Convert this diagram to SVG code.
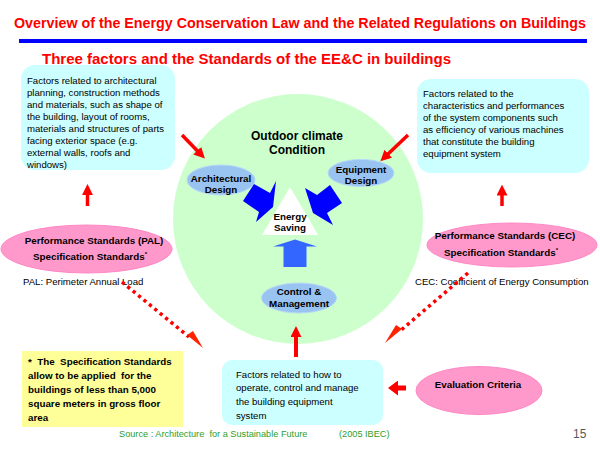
<svg xmlns="http://www.w3.org/2000/svg" width="600" height="450" viewBox="0 0 600 450">
<defs>
<style>
text{font-family:"Liberation Sans",Arial,sans-serif;fill:#000}
.title{font-size:15.5px;font-weight:bold;fill:#ff0000}
.sub{font-size:14px;font-weight:bold;fill:#ff0000}
.body{font-size:9.6px}
.b{font-size:9.8px;font-weight:bold}
.bc{font-size:9.8px;font-weight:bold;text-anchor:middle}
.big{font-size:12px;font-weight:bold;text-anchor:middle}
.cyan{fill:#ccffff}
.pink{fill:#ff99cc;stroke:#ff88c4;stroke-width:1}
.blueell{fill:#99c3f0;stroke:#b8d8f8;stroke-width:1}
.red{stroke:#ff0000;stroke-width:3.5;fill:none}
.dots{stroke:#ff0000;stroke-width:3.5;stroke-dasharray:3.3 3.7;fill:none}
.src{font-size:9.2px;fill:#2e9e2e}
</style>
<marker id="rh" markerUnits="userSpaceOnUse" markerWidth="11" markerHeight="11" viewBox="0 0 10 10" refX="1" refY="5" orient="auto">
<path d="M0,0 L10,5 L0,10 z" fill="#ff0000"/>
</marker>
<marker id="rhL" markerUnits="userSpaceOnUse" markerWidth="10" markerHeight="15" viewBox="0 0 10 15" refX="1" refY="7.5" orient="auto">
<path d="M0,0 L10,7.5 L0,15 z" fill="#ff0000"/>
</marker>
</defs>

<rect width="600" height="450" fill="#ffffff"/>

<g id="header">
<text class="title" transform="translate(14,28) scale(0.8,1)" x="0" y="0" textLength="715" lengthAdjust="spacingAndGlyphs">Overview of the Energy Conservation Law and the Related Regulations on Buildings</text>
<rect x="19" y="39" width="568" height="4" fill="#0000ff"/>
<text class="sub" x="42" y="64" textLength="409" lengthAdjust="spacingAndGlyphs">Three factors and the Standards of the EE&amp;C in buildings</text>
</g>

<g id="outdoor-circle">
<circle cx="298" cy="219" r="125" fill="#ccffcc"/>
<text class="big" x="297" y="140">Outdoor climate</text>
<text class="big" x="297" y="154">Condition</text>
</g>

<g id="arch-box">
<rect class="cyan" x="21" y="65" width="154" height="105" rx="14"/>
<text class="body" x="27" y="84">Factors related to architectural</text>
<text class="body" x="27" y="96">planning, construction methods</text>
<text class="body" x="27" y="108">and materials, such as shape of</text>
<text class="body" x="27" y="120">the building, layout of rooms,</text>
<text class="body" x="27" y="132">materials and structures of parts</text>
<text class="body" x="27" y="144">facing exterior space (e.g.</text>
<text class="body" x="27" y="156">external walls, roofs and</text>
<text class="body" x="27" y="168">windows)</text>
</g>

<g id="equip-box">
<rect class="cyan" x="417" y="79" width="172" height="94" rx="14"/>
<text class="body" x="423" y="97">Factors related to the</text>
<text class="body" x="423" y="109">characteristics and performances</text>
<text class="body" x="423" y="121">of the system components such</text>
<text class="body" x="423" y="133">as efficiency of various machines</text>
<text class="body" x="423" y="145">that constitute the building</text>
<text class="body" x="423" y="157">equipment system</text>
</g>

<g id="arch-design">
<ellipse class="blueell" cx="221" cy="180" rx="34" ry="15"/>
<text class="bc" x="221" y="181.5">Architectural</text>
<text class="bc" x="221" y="193">Design</text>
</g>

<g id="equip-design">
<ellipse class="blueell" cx="361" cy="173" rx="33" ry="13.5"/>
<text class="bc" x="361" y="172.5">Equipment</text>
<text class="bc" x="361" y="184">Design</text>
</g>

<g id="energy-saving">
<polygon points="262,235 318,235 290,187" fill="#ffffff"/>
<text class="bc" x="290" y="219.5">Energy</text>
<text class="bc" x="290" y="231">Saving</text>
</g>

<g id="control">
<ellipse class="blueell" cx="299" cy="298" rx="37.5" ry="15"/>
<text class="bc" x="299" y="295">Control &amp;</text>
<text class="bc" x="299" y="306.5">Management</text>
</g>

<g id="pal">
<ellipse class="pink" cx="86.5" cy="249" rx="85.5" ry="24"/>
<text class="bc" x="94" y="243.5">Performance Standards (PAL)</text>
<text class="bc" x="90" y="260">Specification Standards<tspan font-size="6" dy="-4">*</tspan></text>
<text class="body" x="23" y="285">PAL: Perimeter Annual Load</text>
</g>

<g id="cec">
<ellipse class="pink" cx="512" cy="245" rx="85" ry="22"/>
<text class="bc" x="505" y="238.5">Performance Standards (CEC)</text>
<text class="bc" x="501" y="256">Specification Standards<tspan font-size="6" dy="-4">*</tspan></text>
<text class="body" x="415" y="285">CEC: Coefficient of Energy Consumption</text>
</g>

<g id="note">
<rect x="22" y="351" width="161" height="76" fill="#ffff99"/>
<text class="b" x="28" y="365" xml:space="preserve">*  The  Specification Standards</text>
<text class="b" x="28" y="379" xml:space="preserve">allow to be applied  for the</text>
<text class="b" x="28" y="393">buildings of less than 5,000</text>
<text class="b" x="28" y="407">square meters in gross floor</text>
<text class="b" x="28" y="421">area</text>
</g>

<g id="control-box">
<rect class="cyan" x="222" y="360" width="161" height="65" rx="10"/>
<text class="body" x="236" y="377.5">Factors related to how to</text>
<text class="body" x="236" y="391">operate, control and manage</text>
<text class="body" x="236" y="405">the building equipment</text>
<text class="body" x="236" y="418.5">system</text>
</g>

<g id="evaluation">
<ellipse class="pink" cx="479" cy="390.5" rx="63" ry="24"/>
<text class="bc" x="478" y="387.5">Evaluation Criteria</text>
</g>

<g id="footer">
<text class="src" x="119" y="437" xml:space="preserve">Source : Architecture  for a Sustainable Future</text>
<text class="src" x="339" y="437">(2005 IBEC)</text>
<text x="573" y="438" font-size="12" style="fill:#595959">15</text>
</g>

<g id="connectors">
<polygon points="243,201 254,184 270,193 276,181 273,207 256,222 259,212" fill="#0000ff"/>
<polygon points="305,188 317,195 330,185 342,203 327,213 333,225 313,213" fill="#0000ff"/>
<polygon points="283.5,267 306.5,267 306.5,246.5 317,246.5 295,239.5 273,246.5 283.5,246.5" fill="#3366ff"/>
<line class="red" x1="182" y1="135" x2="198" y2="151.5" marker-end="url(#rh)"/>
<line class="red" x1="408" y1="135" x2="387.5" y2="154.5" marker-end="url(#rh)"/>
<line class="red" x1="87.5" y1="206" x2="87.5" y2="194" marker-end="url(#rh)"/>
<line class="red" x1="502" y1="206" x2="502" y2="194.5" marker-end="url(#rh)"/>
<line class="red" x1="296" y1="357" x2="296" y2="336" marker-end="url(#rh)" style="stroke-width:4"/>
<line class="red" x1="406" y1="388" x2="397" y2="388" marker-end="url(#rhL)" style="stroke-width:5"/>
<line class="dots" x1="122" y1="282" x2="189" y2="337"/>
<path d="M187,335 L203,348 L193,331 z" fill="#ff2200"/>
<line class="dots" x1="468" y1="273" x2="400" y2="331"/>
<path d="M402,329 L385,343 L396,325 z" fill="#ff2200"/>
</g>
</svg>
